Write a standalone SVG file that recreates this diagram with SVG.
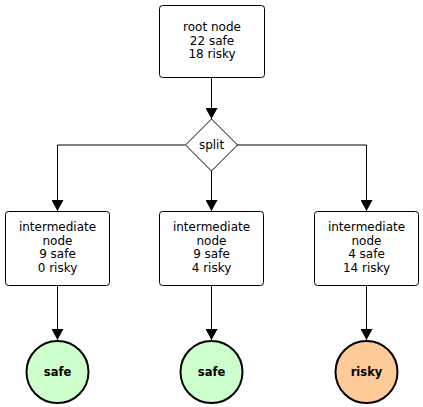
<svg xmlns="http://www.w3.org/2000/svg" width="423" height="407" viewBox="0 0 423 407">
<style>
.box{fill:#fff;stroke:#000;stroke-width:1}
.t{font-family:"DejaVu Sans",sans-serif;font-size:12px;text-anchor:middle;fill:#000}
.b{font-family:"DejaVu Sans",sans-serif;font-size:11.5px;font-weight:bold;text-anchor:middle;fill:#000}
.e{fill:none;stroke:#000;stroke-width:1}
.safe{fill:#ccffcc;stroke:#000;stroke-width:2}
.risky{fill:#ffcc99;stroke:#000;stroke-width:2}
</style>
<defs>
<marker id="ah" markerWidth="11" markerHeight="12" refX="12" refY="5" orient="auto" markerUnits="userSpaceOnUse" viewBox="0 0 12 10" preserveAspectRatio="none">
<path d="M0,0 L12,5 L0,10 z" fill="#000"/>
</marker>
</defs>
<g id="connectors">
<path class="e" d="M211.5,77 V119" marker-end="url(#ah)"/>
<path class="e" d="M185,145 H57.5 V211" marker-end="url(#ah)"/>
<path class="e" d="M211.5,171 V211" marker-end="url(#ah)"/>
<path class="e" d="M237,145 H366.5 V211" marker-end="url(#ah)"/>
<path class="e" d="M57.5,285 V340" marker-end="url(#ah)"/>
<path class="e" d="M211.5,285 V340" marker-end="url(#ah)"/>
<path class="e" d="M366.5,285 V340" marker-end="url(#ah)"/>
</g>
<g id="root">
<rect class="box" x="159.5" y="5.5" width="105" height="72" rx="3"/>
<text class="t" x="212" y="31">root node</text>
<text class="t" x="212" y="44.5">22 safe</text>
<text class="t" x="212" y="58">18 risky</text>
</g>
<g id="split">
<path class="box" d="M211.5,119 L237.5,145 L211.5,171 L185.5,145 z"/>
<text class="t" x="211.5" y="149">split</text>
</g>
<g id="int1">
<rect class="box" x="5.5" y="211.5" width="104" height="74" rx="3"/>
<text class="t" x="57.5" y="231">intermediate</text>
<text class="t" x="57.5" y="244.5">node</text>
<text class="t" x="57.5" y="258">9 safe</text>
<text class="t" x="57.5" y="271.5">0 risky</text>
</g>
<g id="int2">
<rect class="box" x="159.5" y="211.5" width="104" height="74" rx="3"/>
<text class="t" x="211.5" y="231">intermediate</text>
<text class="t" x="211.5" y="244.5">node</text>
<text class="t" x="211.5" y="258">9 safe</text>
<text class="t" x="211.5" y="271.5">4 risky</text>
</g>
<g id="int3">
<rect class="box" x="314.5" y="211.5" width="104" height="74" rx="3"/>
<text class="t" x="366.5" y="231">intermediate</text>
<text class="t" x="366.5" y="244.5">node</text>
<text class="t" x="366.5" y="258">4 safe</text>
<text class="t" x="366.5" y="271.5">14 risky</text>
</g>
<g id="leaf1">
<circle class="safe" cx="57.5" cy="372" r="31"/>
<text class="b" x="57.5" y="376">safe</text>
</g>
<g id="leaf2">
<circle class="safe" cx="211.5" cy="372" r="31"/>
<text class="b" x="211.5" y="376">safe</text>
</g>
<g id="leaf3">
<circle class="risky" cx="366.5" cy="372" r="31"/>
<text class="b" x="366.5" y="376">risky</text>
</g>
</svg>
